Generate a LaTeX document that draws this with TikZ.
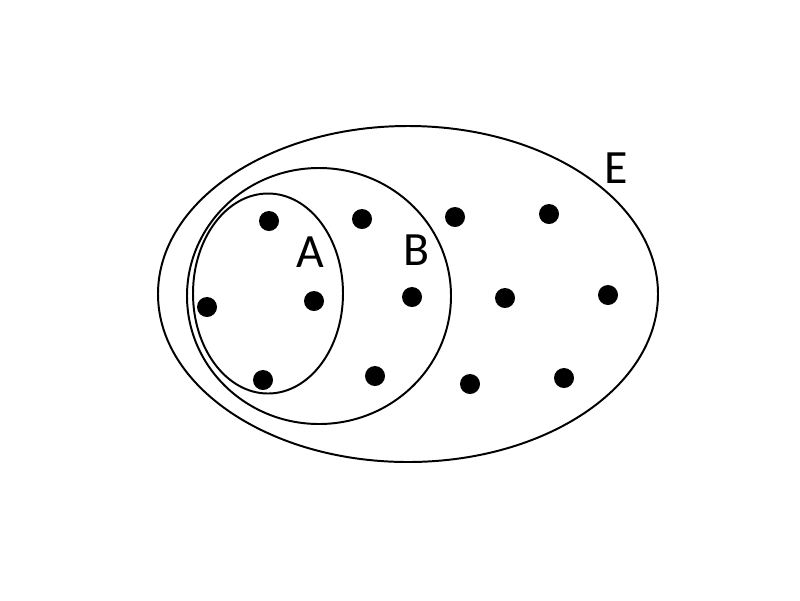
\documentclass[tikz,border=0pt]{standalone}
\usepackage{fontspec}
\setmainfont{Carlito}
\begin{document}
\begin{tikzpicture}[x=0.025cm,y=-0.025cm,
    set/.style={draw,line width=1.4pt},
    pt/.style={circle,fill=black,inner sep=0pt,minimum size=0.5cm},
    setlabel/.style={font=\fontsize{34}{34}\selectfont,inner sep=0pt}]
  \useasboundingbox (0,0) rectangle (800,600);
  % sets
  \draw[set] (408,294) ellipse [x radius=250, y radius=168];
  \draw[set] (319,296) ellipse [x radius=132, y radius=128];
  \draw[set] (268,293.5) ellipse [x radius=75, y radius=100];
  \node[setlabel] (labA) at (310,252) {A};
  \node[setlabel] (labB) at (416,250) {B};
  \node[setlabel] (labE) at (616,168) {E};
  % elements
  \foreach \x/\y [count=\i] in {269/221,362/219,455/217,549/214,
      207/307,314/301,412/297,505/298,608/295,
      263/380,375/376,470/384,564/378}
    \node[pt] (p\i) at (\x,\y) {};
\end{tikzpicture}
\end{document}
